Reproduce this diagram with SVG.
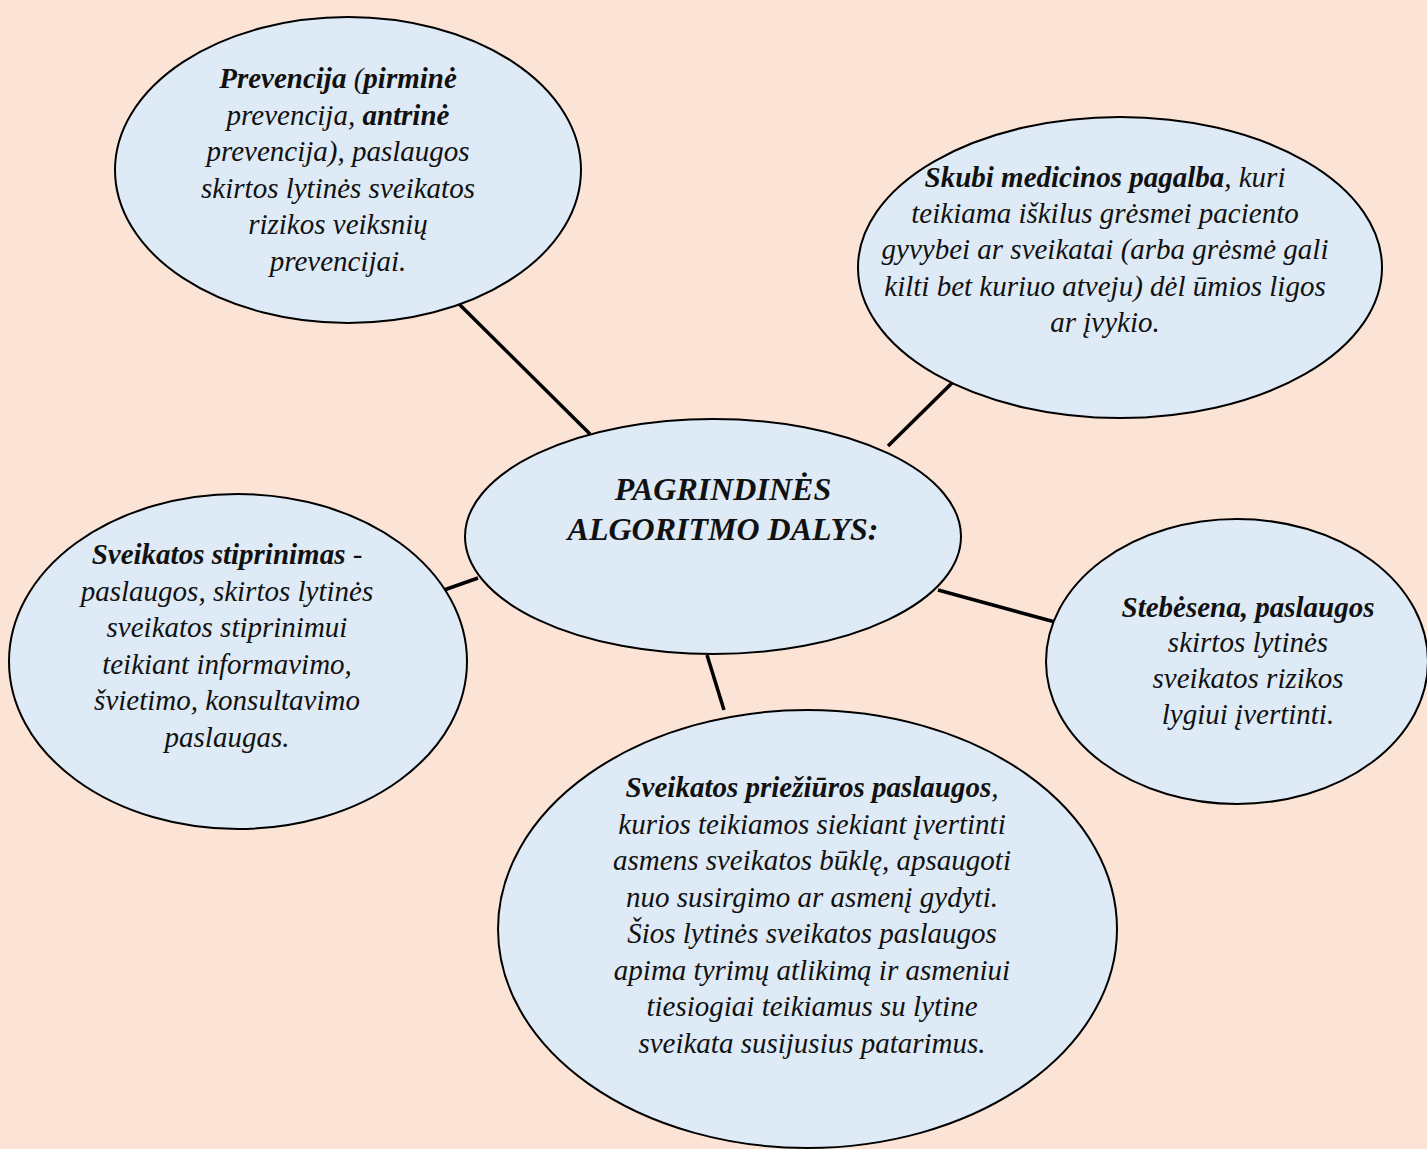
<svg xmlns="http://www.w3.org/2000/svg" width="1427" height="1149" viewBox="0 0 1427 1149">
<style>
.bg{fill:#FBE4D6}
.node{fill:#DEEAF6;stroke:#000;stroke-width:2}
.conn{stroke:#000;stroke-width:3.5;fill:none}
.t{font-family:"Liberation Serif","Times New Roman",serif;font-style:italic;font-size:29px;fill:#111;text-anchor:middle}
.c{font-size:32px;font-weight:bold}
.b{font-weight:bold}
</style>
<rect class="bg" x="0" y="0" width="1427" height="1149"/>
<g id="connectors">
<line class="conn" x1="457" y1="302" x2="590" y2="434"/>
<line class="conn" x1="888" y1="446" x2="952" y2="383"/>
<line class="conn" x1="444" y1="590" x2="478" y2="578"/>
<line class="conn" x1="938" y1="590" x2="1055" y2="622"/>
<line class="conn" x1="707" y1="655" x2="724" y2="710"/>
</g>
<g id="prevencija">
<ellipse class="node" cx="348" cy="170" rx="233" ry="153"/>
<text class="t" x="338" y="88"><tspan class="b">Prevencija</tspan> (<tspan class="b">pirminė</tspan></text>
<text class="t" x="338" y="124.5">prevencija, <tspan class="b">antrinė</tspan></text>
<text class="t" x="338" y="161">prevencija), paslaugos</text>
<text class="t" x="338" y="197.5">skirtos lytinės sveikatos</text>
<text class="t" x="338" y="234">rizikos veiksnių</text>
<text class="t" x="338" y="270.5">prevencijai.</text>
</g>
<g id="skubi">
<ellipse class="node" cx="1120" cy="267.5" rx="262" ry="150.5"/>
<text class="t" x="1105" y="187"><tspan class="b">Skubi medicinos pagalba</tspan>, kuri</text>
<text class="t" x="1105" y="223">teikiama iškilus grėsmei paciento</text>
<text class="t" x="1105" y="259">gyvybei ar sveikatai (arba grėsmė gali</text>
<text class="t" x="1105" y="295.5">kilti bet kuriuo atveju) dėl ūmios ligos</text>
<text class="t" x="1105" y="332">ar įvykio.</text>
</g>
<g id="center">
<ellipse class="node" cx="713" cy="536.5" rx="248" ry="117.5"/>
<text class="t c" x="723" y="500">PAGRINDINĖS</text>
<text class="t c" x="723" y="539.5">ALGORITMO DALYS:</text>
</g>
<g id="stiprinimas">
<ellipse class="node" cx="238" cy="661.5" rx="229" ry="167.5"/>
<text class="t" x="227" y="564"><tspan class="b">Sveikatos stiprinimas</tspan> -</text>
<text class="t" x="227" y="600.5">paslaugos, skirtos lytinės</text>
<text class="t" x="227" y="637">sveikatos stiprinimui</text>
<text class="t" x="227" y="673.5">teikiant informavimo,</text>
<text class="t" x="227" y="710">švietimo, konsultavimo</text>
<text class="t" x="227" y="746.5">paslaugas.</text>
</g>
<g id="stebesena">
<ellipse class="node" cx="1237" cy="661.5" rx="191" ry="142.5"/>
<text class="t" x="1248" y="616.5"><tspan class="b">Stebėsena, paslaugos</tspan></text>
<text class="t" x="1248" y="652">skirtos lytinės</text>
<text class="t" x="1248" y="688">sveikatos rizikos</text>
<text class="t" x="1248" y="724">lygiui įvertinti.</text>
</g>
<g id="prieziura">
<ellipse class="node" cx="807.5" cy="929" rx="309.5" ry="219"/>
<text class="t" x="812" y="797"><tspan class="b">Sveikatos priežiūros paslaugos</tspan>,</text>
<text class="t" x="812" y="833.5">kurios teikiamos siekiant įvertinti</text>
<text class="t" x="812" y="870">asmens sveikatos būklę, apsaugoti</text>
<text class="t" x="812" y="906.5">nuo susirgimo ar asmenį gydyti.</text>
<text class="t" x="812" y="943">Šios lytinės sveikatos paslaugos</text>
<text class="t" x="812" y="979.5">apima tyrimų atlikimą ir asmeniui</text>
<text class="t" x="812" y="1016">tiesiogiai teikiamus su lytine</text>
<text class="t" x="812" y="1052.5">sveikata susijusius patarimus.</text>
</g>
</svg>
